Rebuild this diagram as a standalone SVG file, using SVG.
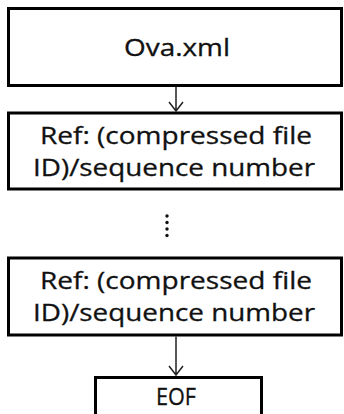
<svg xmlns="http://www.w3.org/2000/svg" width="344" height="414" viewBox="0 0 344 414">
<style>
.box{fill:#fff;stroke:#000;stroke-width:3}
.t{font-family:"Open Sans","Noto Sans",sans-serif;font-size:23px;fill:#111;stroke:#111;stroke-width:0.3;text-anchor:middle}
.c{stroke:#222;stroke-width:1.5;fill:none}
</style>
<rect width="344" height="414" fill="#fff"/>
<g id="node-ova">
<rect class="box" x="8.5" y="8.5" width="333" height="77"/>
<text class="t" x="177" y="56" textLength="106" lengthAdjust="spacingAndGlyphs">Ova.xml</text>
</g>
<g id="node-ref1">
<rect class="box" x="8.5" y="113" width="333" height="76"/>
<text class="t" x="176" y="144" textLength="272" lengthAdjust="spacingAndGlyphs">Ref: (compressed file</text>
<text class="t" x="174" y="176" textLength="282" lengthAdjust="spacingAndGlyphs">ID)/sequence number</text>
</g>
<g id="ellipsis">
<circle cx="167" cy="216" r="1.7" fill="#111"/>
<circle cx="167" cy="222.5" r="1.7" fill="#111"/>
<circle cx="167" cy="229" r="1.7" fill="#111"/>
<circle cx="167" cy="235.5" r="1.7" fill="#111"/>
</g>
<g id="node-ref2">
<rect class="box" x="8.5" y="258" width="333" height="77"/>
<text class="t" x="176" y="289" textLength="272" lengthAdjust="spacingAndGlyphs">Ref: (compressed file</text>
<text class="t" x="174" y="321" textLength="282" lengthAdjust="spacingAndGlyphs">ID)/sequence number</text>
</g>
<g id="node-eof">
<rect class="box" x="95.5" y="377.5" width="166" height="40"/>
<text class="t" x="176" y="405" style="font-size:24px" textLength="40" lengthAdjust="spacingAndGlyphs">EOF</text>
</g>
<g id="connectors">
<path class="c" d="M176 87 V111 M169 102 L176 111 L183 102"/>
<path class="c" d="M176 336.5 V375 M169 366 L176 375 L183 366"/>
</g>
</svg>
